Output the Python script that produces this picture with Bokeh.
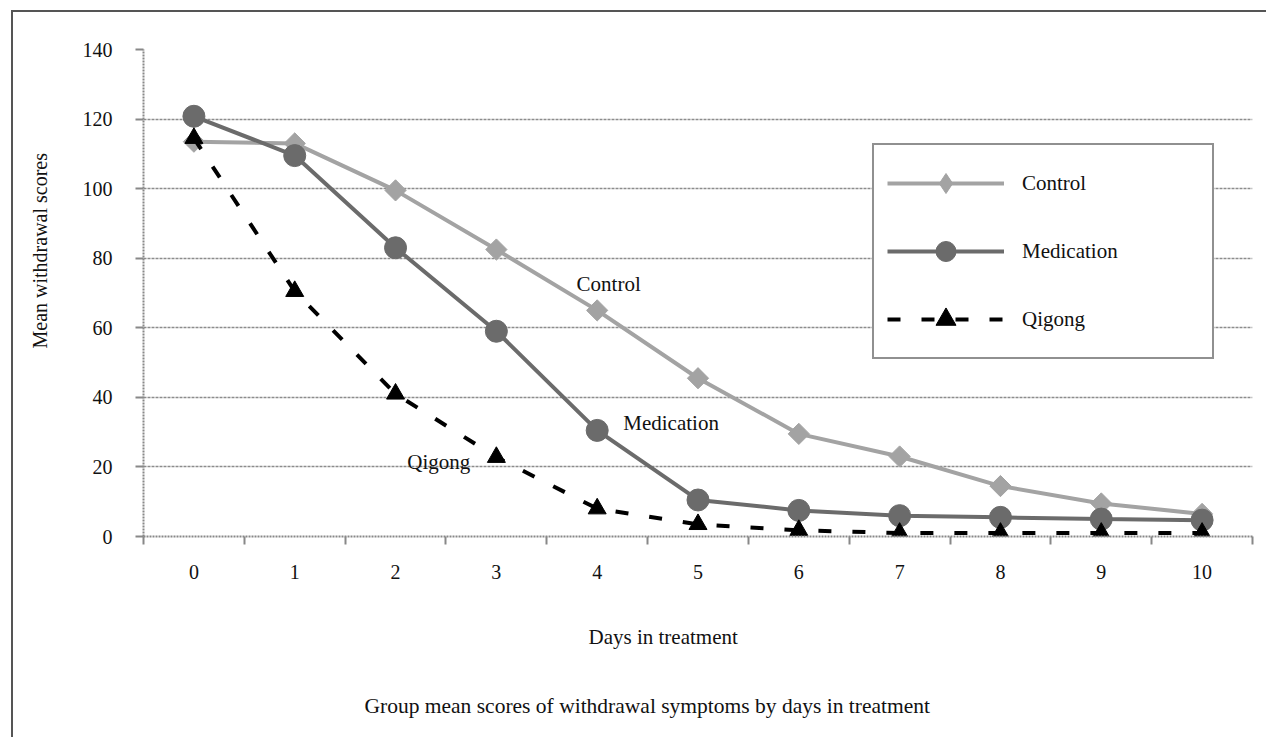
import math
from bokeh.plotting import figure
from bokeh.models import FixedTicker, Label, Legend, LegendItem, Range1d, Title
from bokeh.embed import file_html
from bokeh.resources import INLINE

# ---- data ----
days = [0, 1, 2, 3, 4, 5, 6, 7, 8, 9, 10]
control = [113.5, 113.0, 99.5, 82.5, 65.0, 45.5, 29.5, 23.0, 14.5, 9.5, 6.5]
medication = [120.8, 109.5, 83.0, 59.0, 30.5, 10.5, 7.5, 6.0, 5.5, 5.0, 4.7]
qigong = [114.5, 70.5, 41.0, 22.8, 8.0, 3.5, 1.8, 1.0, 1.0, 1.0, 1.0]
y_ticks = [0, 20, 40, 60, 80, 100, 120, 140]
series_names = ["Control", "Medication", "Qigong"]
x_title = "Days in treatment"
y_title = "Mean withdrawal scores"
caption = "Group mean scores of withdrawal symptoms by days in treatment"

FONT = "Liberation Serif"
C_CTRL = "#a3a3a3"
C_MED = "#6b6b6b"
C_QIG = "#000000"
TXT = "#111111"

p = figure(width=1266, height=737,
           x_range=Range1d(days[0] - 0.5, days[-1] + 0.5),
           y_range=Range1d(y_ticks[0], y_ticks[-1]),
           output_backend="svg", toolbar_location=None,
           min_border_left=143, min_border_top=49,
           min_border_right=14, min_border_bottom=201)
p.title.visible = False
p.background_fill_color = "white"
p.border_fill_color = "white"
p.border_fill_alpha = 0.0
p.outline_line_color = None
p.styles = {
    "background": ("linear-gradient(#555555, #555555) 11px 10px / 2px calc(100% - 10px) no-repeat, "
                   "linear-gradient(#555555, #555555) 11px 10px / calc(100% - 11px) 2px no-repeat, "
                   "#ffffff"),
}

# ---- axes ----
boundaries = [d - 0.5 for d in days] + [days[-1] + 0.5]
xa = p.xaxis[0]
xa.ticker = FixedTicker(ticks=days, minor_ticks=boundaries)
xa.major_tick_line_color = None
xa.major_tick_out = 0
xa.major_tick_in = 0
xa.minor_tick_line_color = "#888888"
xa.minor_tick_line_width = 2
xa.minor_tick_out = 8
xa.minor_tick_in = 0
xa.axis_line_color = "#888888"
xa.axis_line_width = 2
xa.axis_line_dash = "2 1"
xa.major_label_text_font = FONT
xa.major_label_text_font_size = "20px"
xa.major_label_text_color = TXT
xa.major_label_standoff = 20

ya = p.yaxis[0]
ya.ticker = FixedTicker(ticks=y_ticks, minor_ticks=[])
ya.major_tick_line_color = "#888888"
ya.major_tick_line_width = 2
ya.major_tick_out = 8
ya.major_tick_in = 0
ya.minor_tick_line_color = None
ya.axis_line_color = "#888888"
ya.axis_line_width = 2
ya.axis_line_dash = "2 1"
ya.major_label_text_font = FONT
ya.major_label_text_font_size = "20px"
ya.major_label_text_color = TXT
ya.major_label_standoff = 23

p.xgrid.grid_line_color = None
p.ygrid.grid_line_color = "#8c8c8c"
p.ygrid.grid_line_width = 1.5
p.ygrid.grid_line_dash = "3 1"

# ---- series ----
l_c = p.line(days, control, line_color=C_CTRL, line_width=4)
s_c = p.scatter(days, control, marker="square", angle=math.pi / 4, size=15,
                fill_color=C_CTRL, line_color=C_CTRL)
s_c_leg = p.scatter(days, control, marker="diamond", size=22,
                    fill_color=C_CTRL, line_color=C_CTRL, visible=False)
l_m = p.line(days, medication, line_color=C_MED, line_width=4)
s_m = p.scatter(days, medication, marker="circle", size=22,
                fill_color=C_MED, line_color=C_MED)
l_q = p.line(days, qigong, line_color=C_QIG, line_width=4, line_dash="13 21")
s_q = p.scatter(days, qigong, marker="triangle", size=18,
                fill_color=C_QIG, line_color=C_QIG)

legend = Legend(items=[
    LegendItem(label=series_names[0], renderers=[l_c, s_c_leg]),
    LegendItem(label=series_names[1], renderers=[l_m, s_m]),
    LegendItem(label=series_names[2], renderers=[l_q, s_q]),
], location=(729, 177))
legend.label_text_font = FONT
legend.label_text_font_size = "21px"
legend.label_text_color = TXT
legend.border_line_color = "#222222"
legend.border_line_width = 2.5
legend.background_fill_color = "white"
legend.background_fill_alpha = 1.0
legend.padding = 13
legend.spacing = 18
legend.margin = 0
legend.glyph_height = 50
legend.label_height = 50
legend.glyph_width = 117
legend.label_standoff = 18
legend.label_width = 177
p.add_layout(legend)

# ---- in-plot series labels ----
for name, lx, ly in [(series_names[0], 3.796, 72.6),
                     (series_names[1], 4.259, 32.5),
                     (series_names[2], 2.116, 21.5)]:
    p.add_layout(Label(x=lx, y=ly, text=name, text_font=FONT,
                       text_font_size="21px", text_color=TXT,
                       text_align="left", text_baseline="alphabetic"))

# ---- axis titles & caption (as side-panel titles) ----
t_x = Title(text=x_title, align="left", offset=445, vertical_align="bottom",
            standoff=83, text_font=FONT, text_font_size="21px",
            text_font_style="normal", text_color=TXT)
t_cap = Title(text=caption, align="left", offset=221, vertical_align="top",
              standoff=6, text_font=FONT, text_font_size="21.5px",
              text_font_style="normal", text_color=TXT)
p.add_layout(t_x, "below")
p.add_layout(t_cap, "below")
t_y = Title(text=y_title, align="left", offset=188, vertical_align="top",
            standoff=54, text_font=FONT, text_font_size="20px",
            text_font_style="normal", text_color=TXT)
p.add_layout(t_y, "left")

open("out.html", "w").write(file_html(p, INLINE))
